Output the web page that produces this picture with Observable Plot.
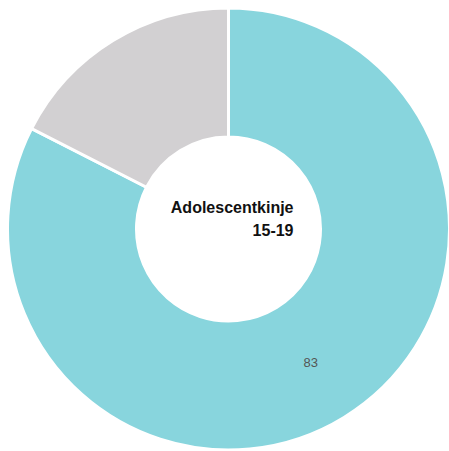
<!DOCTYPE html>
<html>
<head>
<meta charset="utf-8">
<script src="https://cdn.jsdelivr.net/npm/d3@7"></script>
<script src="https://cdn.jsdelivr.net/npm/@observablehq/plot@0.6"></script>
<style>
html,body{margin:0;padding:0;background:#fff;}
</style>
</head>
<body>
<div id="chart"></div>
<script>
const categories = ["Adolescentkinje 15-19", "Overig"];
const values = [82.5, 17.5];
const colors = ["#88d5dd", "#d2d0d2"];
const labels = ["83", ""];
const centerLines = ["Adolescentkinje", "15-19"];

const W = 449, H = 451;
const cx = 228.5, cy = 229, outerR = 221, innerR = 92;

const data = categories.map((c, i) => ({category: c, value: values[i], color: colors[i], label: labels[i]}));
const pie = d3.pie().sort(null).value(d => d.value);
const arcs = pie(data);
const arcGen = d3.arc().innerRadius(innerR).outerRadius(outerR);
const labelArc = d3.arc().innerRadius((innerR + outerR) / 2).outerRadius((innerR + outerR) / 2);

const labelData = arcs.filter(a => a.data.label).map(a => {
  const [x, y] = labelArc.centroid(a);
  return {x: cx + x, y: cy + y, text: a.data.label};
});

const slices = (index, scales) => {
  const g = d3.create("svg:g");
  const X = scales.x(cx), Y = scales.y(cy);
  g.selectAll("path").data(arcs).join("path")
    .attr("transform", `translate(${X},${Y})`)
    .attr("d", arcGen)
    .attr("fill", d => d.data.color)
    .attr("stroke", "#fff")
    .attr("stroke-width", 3)
    .attr("stroke-linejoin", "miter");
  return g.node();
};

const plot = Plot.plot({
  width: W,
  height: H,
  margin: 0,
  x: {domain: [0, W], range: [0, W], axis: null},
  y: {domain: [0, H], range: [0, H], axis: null},
  style: {background: "#fff", fontFamily: "Liberation Sans, Arial, sans-serif"},
  marks: [
    slices,
    Plot.text(labelData, {x: "x", y: "y", text: "text", fill: "#555", fontSize: 13}),
    Plot.text([{x: 293, y: 207.5, t: centerLines[0]}, {x: 293, y: 230.5, t: centerLines[1]}], {
      x: "x", y: "y", text: "t", textAnchor: "end", fill: "#111", fontSize: 16, fontWeight: "bold"
    })
  ]
});
document.getElementById("chart").append(plot);
</script>
</body>
</html>
